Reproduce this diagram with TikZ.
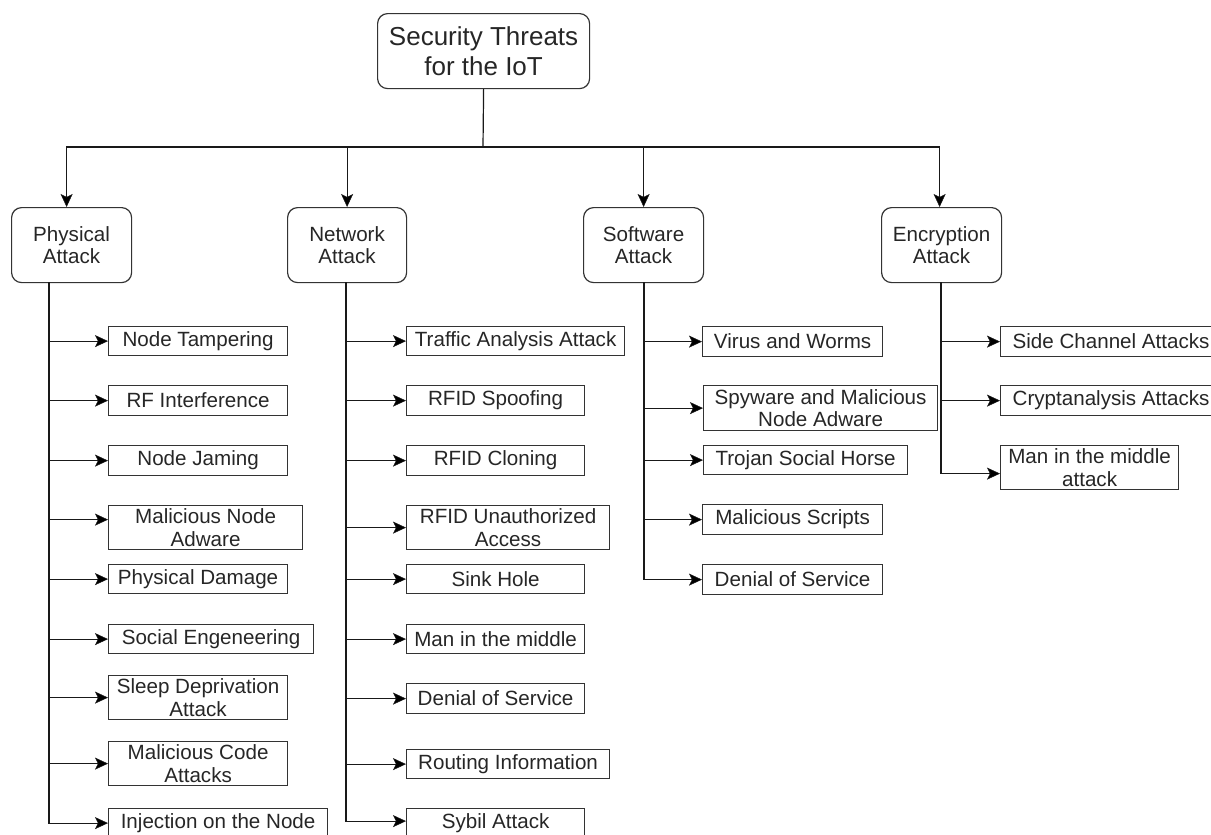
\documentclass[tikz,border=0pt]{standalone}
\usepackage{fontspec}
\setmainfont{Liberation Sans}
\usetikzlibrary{arrows.meta}

\newcommand{\leaffont}{\fontsize{20.6}{22.5}\selectfont}
\newcommand{\rootfont}{\fontsize{26}{30}\selectfont}

\tikzset{
  leaf/.style={draw=black!80, line width=1.2pt, anchor=north west, inner sep=0pt,
               align=center, font=\leaffont, text=black!85},
  cat/.style={leaf, rounded corners=10pt},
  rootbox/.style={cat, font=\rootfont},
  conn/.style={draw=black!90, line width=1.2pt},
  arr/.style={conn, -{Stealth[length=13pt,width=12pt,inset=3pt,fill=black,line width=0.5pt]}},
}

\begin{document}
\begin{tikzpicture}[x=1pt, y=-1pt]
\useasboundingbox (0,0) rectangle (1211,835);

% top of the tree
\node[rootbox, minimum width=212pt, minimum height=75pt] (root) at (377,13) {Security Threats\\for the IoT};

% attack categories
\node[cat, minimum width=120pt, minimum height=75pt] (pa) at (11,207)  {Physical\\Attack};
\node[cat, minimum width=119pt, minimum height=75pt] (na) at (287,207) {Network\\Attack};
\node[cat, minimum width=120pt, minimum height=75pt] (sa) at (583,207) {Software\\Attack};
\node[cat, minimum width=120pt, minimum height=75pt] (ea) at (881,207) {Encryption\\Attack};

% physical attacks
\node[leaf, minimum width=179pt, minimum height=29pt] (p1) at (108,326) {Node Tampering};
\node[leaf, minimum width=179pt, minimum height=30pt] (p2) at (108,385) {RF Interference};
\node[leaf, minimum width=179pt, minimum height=30pt] (p3) at (108,445) {Node Jaming};
\node[leaf, minimum width=194pt, minimum height=44pt] (p4) at (108,505) {Malicious Node\\Adware};
\node[leaf, minimum width=179pt, minimum height=29pt] (p5) at (108,564) {Physical Damage};
\node[leaf, minimum width=205pt, minimum height=29pt] (p6) at (108,624) {Social Engeneering};
\node[leaf, minimum width=179pt, minimum height=44pt] (p7) at (108,675) {Sleep Deprivation\\Attack};
\node[leaf, minimum width=179pt, minimum height=44pt] (p8) at (108,741) {Malicious Code\\Attacks};
\node[leaf, minimum width=219pt, minimum height=29pt] (p9) at (108,808) {Injection on the Node};

% network attacks
\node[leaf, minimum width=218pt, minimum height=29pt] (n1) at (406,326) {Traffic Analysis Attack};
\node[leaf, minimum width=178pt, minimum height=30pt] (n2) at (406,385) {RFID Spoofing};
\node[leaf, minimum width=178pt, minimum height=30pt] (n3) at (406,445) {RFID Cloning};
\node[leaf, minimum width=203pt, minimum height=44pt] (n4) at (406,505) {RFID Unauthorized\\Access};
\node[leaf, minimum width=178pt, minimum height=29pt] (n5) at (406,564) {Sink Hole};
\node[leaf, minimum width=178pt, minimum height=29pt] (n6) at (406,624) {Man in the middle};
\node[leaf, minimum width=178pt, minimum height=30pt] (n7) at (406,683) {Denial of Service};
\node[leaf, minimum width=203pt, minimum height=29pt] (n8) at (406,749) {Routing Information};
\node[leaf, minimum width=178pt, minimum height=29pt] (n9) at (406,808) {Sybil Attack};

% software attacks
\node[leaf, minimum width=180pt, minimum height=30pt] (s1) at (702,326) {Virus and Worms};
\node[leaf, minimum width=234pt, minimum height=45pt] (s2) at (703,385) {Spyware and Malicious\\Node Adware};
\node[leaf, minimum width=204pt, minimum height=29pt] (s3) at (703,445) {Trojan Social Horse};
\node[leaf, minimum width=180pt, minimum height=30pt] (s4) at (702,504) {Malicious Scripts};
\node[leaf, minimum width=180pt, minimum height=30pt] (s5) at (702,564) {Denial of Service};

% encryption attacks
\node[leaf, minimum width=221pt, minimum height=30pt] (e1) at (1000,326) {Side Channel Attacks};
\node[leaf, minimum width=221pt, minimum height=30pt] (e2) at (1000,385) {Cryptanalysis Attacks};
\node[leaf, minimum width=178pt, minimum height=44pt] (e3) at (1000,445) {Man in the middle\\attack};

% root to categories
\coordinate (bus) at (483,147);
\draw[conn] (root.south) -- (bus);
\draw[arr] (bus) -| ([xshift=-5pt]pa.north);
\draw[arr] (bus) -| (na.north);
\draw[arr] (bus) -| (sa.north);
\draw[arr] (bus) -| ([xshift=-2pt]ea.north);

% physical branch
\coordinate (pt) at (49,282);
\draw[arr] (pt) |- (p9.west);
\foreach \n in {p1,p2,p3,p5,p6,p7,p8} \draw[arr] (\n.west -| pt) -- (\n.west);
\draw[arr] ([yshift=8pt]p4.west -| pt) -- ([yshift=8pt]p4.west);

% network branch
\coordinate (nt) at (346,282);
\draw[arr] (nt) |- ([yshift=2pt]n9.west);
\foreach \n in {n1,n2,n3,n4,n5,n6,n7,n8} \draw[arr] (\n.west -| nt) -- (\n.west);

% software branch
\coordinate (st) at (644,282);
\draw[arr] (st) |- (s5.west);
\foreach \n in {s1,s2,s3,s4} \draw[arr] (\n.west -| st) -- (\n.west);

% encryption branch
\coordinate (et) at (941,282);
\draw[arr] (et) |- ([yshift=-6pt]e3.west);
\foreach \n in {e1,e2} \draw[arr] (\n.west -| et) -- (\n.west);
\end{tikzpicture}
\end{document}
